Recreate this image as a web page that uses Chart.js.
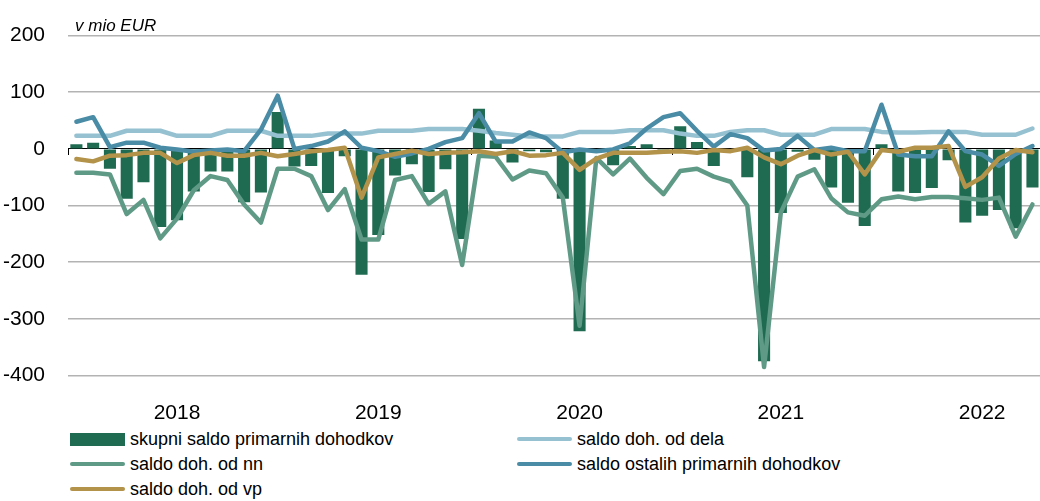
<!DOCTYPE html>
<html lang="sl">
<head>
    <meta charset="UTF-8">
    <title>Primarni dohodki</title>
    <script src="https://cdn.jsdelivr.net/npm/chart.js@4.4.0/dist/chart.umd.min.js"></script>
    <style>
        :root {
            --font: 'Liberation Sans Narrow', 'Arial Narrow', 'Liberation Sans', Arial, sans-serif;
        }

        * {
            margin: 0;
            padding: 0;
            box-sizing: border-box;
        }

        body {
            width: 1040px;
            height: 501px;
            overflow: hidden;
            background: #ffffff;
            position: relative;
            font-family: var(--font);
        }

        #chart {
            position: absolute;
            left: 0;
            top: 0;
        }

        .unit {
            position: absolute;
            left: 75px;
            top: 17px;
            font-size: 17px;
            line-height: 17px;
            font-style: italic;
            color: #000;
        }

        .legend-item {
            position: absolute;
            display: flex;
            align-items: center;
            height: 20px;
            font-size: 18px;
            color: #000;
            white-space: nowrap;
        }

        .legend-swatch {
            width: 55px;
            margin-right: 5px;
        }

        .legend-swatch.bar { height: 13px; }
        .legend-swatch.line { height: 4.5px; border-radius: 2px; }
    </style>
</head>
<body>
    <canvas id="chart" width="1083" height="420"></canvas>
    <div class="unit">v mio EUR</div>
    <div id="legend"></div>

    <script>
        // monthly data, Jan 2018 onward (values in mio EUR)
        const years = ['2018', '2019', '2020', '2021', '2022'];
        const months = years.flatMap(y => Array.from({ length: 12 }, (_, m) => y + '-' + String(m + 1).padStart(2, '0')));

        const skupni = [8, 11, -35, -88, -59, -138, -126, -75, -40, -40, -94, -77,
            65, -31, -30, -78, -13, -222, -152, -47, -27, -76, -36, -159,
            71, 15, -24, -4, -6, -88, -322, -3, -29, 5, 8, -2,
            40, 12, -30, -3, -50, -375, -113, -5, -19, -68, -95, -136,
            8, -75, -78, -69, -20, -130, -118, -108, -140, -68];

        const dela = [23, 23, 23, 32, 32, 32, 23, 23, 23, 32, 32, 32,
            23, 23, 23, 27, 27, 27, 32, 32, 32, 35, 35, 35,
            32, 28, 25, 22, 22, 22, 30, 30, 30, 33, 33, 33,
            27, 23, 23, 30, 33, 33, 25, 25, 25, 35, 35, 35,
            30, 29, 29, 30, 30, 30, 25, 25, 25, 36];

        const nn = [-42, -42, -45, -115, -90, -158, -123, -73, -48, -55, -98, -130,
            -35, -35, -48, -108, -71, -160, -160, -55, -48, -97, -75, -205,
            -12, -14, -54, -38, -43, -86, -312, -16, -45, -17, -51, -80,
            -39, -35, -49, -58, -100, -385, -112, -49, -36, -87, -112, -118,
            -89, -84, -89, -85, -85, -87, -90, -86, -155, -98];

        const ostalih = [48, 56, 3, 11, 11, 2, -1, -5, -3, -1, -4, 34,
            94, 0, 5, 13, 31, 2, -4, -14, -8, 0, 12, 19,
            63, 13, 13, 29, 19, -6, -1, -4, -1, 10, 36, 56,
            63, 32, 4, 26, 19, -3, 0, 23, -2, 2, -4, -4,
            78, -10, -13, -13, 31, -4, -10, -30, -9, 5];

        const vp = [-18, -22, -12, -11, -7, -7, -25, -11, -7, -12, -12, -7,
            -13, -9, -4, -2, 2, -86, -15, -9, -3, -9, -7, -6,
            -4, -9, -4, -12, -11, -7, -37, -17, -7, -7, -7, -5,
            -4, -7, -2, -4, 2, -15, -27, -12, -2, -10, -5, -45,
            -2, -5, 2, 2, 5, -67, -50, -17, -2, -6];

        const colors = {
            skupni: '#1f6b51',
            dela: '#95c1d1',
            nn: '#5f9a86',
            ostalih: '#4a8ca6',
            vp: '#b39249'
        };

        Chart.defaults.font.family = "'Liberation Sans Narrow', 'Arial Narrow', 'Liberation Sans', Arial, sans-serif";
        Chart.defaults.color = '#000';

        // small black ticks on the zero line at each year boundary
        const yearTicks = {
            id: 'yearTicks',
            beforeDatasetsDraw(chart) {
                const { ctx, scales: { x, y } } = chart;
                const y0 = Math.round(y.getPixelForValue(0));
                const step = x.width / months.length;
                ctx.save();
                ctx.strokeStyle = '#000';
                ctx.lineWidth = 1;
                ctx.beginPath();
                for (let i = 0; i < months.length; i += 12) {
                    const px = Math.round(x.getPixelForValue(i) - step / 2) + 0.5;
                    ctx.moveTo(px, y0);
                    ctx.lineTo(px, y0 + 6);
                }
                ctx.stroke();
                ctx.restore();
            }
        };

        function lineSet(label, data, color, order) {
            return {
                type: 'line',
                label: label,
                data: data,
                borderColor: color,
                backgroundColor: color,
                borderWidth: 4.5,
                pointRadius: 0,
                tension: 0,
                borderJoinStyle: 'round',
                borderCapStyle: 'round',
                order: order
            };
        }

        const datasets = [
            {
                type: 'bar',
                label: 'skupni saldo primarnih dohodkov',
                data: skupni,
                backgroundColor: colors.skupni,
                barPercentage: 0.72,
                categoryPercentage: 1,
                order: 5
            },
            lineSet('saldo doh. od dela', dela, colors.dela, 4),
            lineSet('saldo doh. od nn', nn, colors.nn, 3),
            lineSet('saldo ostalih primarnih dohodkov', ostalih, colors.ostalih, 2),
            lineSet('saldo doh. od vp', vp, colors.vp, 1)
        ];

        new Chart(document.getElementById('chart'), {
            data: { labels: months, datasets: datasets },
            options: {
                responsive: false,
                animation: false,
                devicePixelRatio: 1,
                layout: { padding: { top: 35.5, left: 0, right: 0, bottom: 0 } },
                plugins: {
                    legend: { display: false },
                    tooltip: { enabled: false }
                },
                scales: {
                    x: {
                        offset: true,
                        grid: { display: false },
                        border: { display: false },
                        ticks: {
                            autoSkip: false,
                            maxRotation: 0,
                            padding: 17,
                            font: { size: 21 },
                            callback: (v, i) => (i % 12 === 6 ? months[i].slice(0, 4) : '')
                        },
                        afterFit(scale) { scale.height = 44.5; }
                    },
                    y: {
                        min: -400,
                        max: 200,
                        ticks: { stepSize: 100, padding: 23, font: { size: 21 } },
                        grid: {
                            drawTicks: false,
                            color: ctx => (ctx.tick.value === 0 ? '#000' : '#b3b3b3'),
                            lineWidth: ctx => (ctx.tick.value === 0 ? 1 : 1.5)
                        },
                        border: { display: false },
                        afterFit(scale) { scale.width = 68; }
                    }
                }
            },
            plugins: [yearTicks]
        });

        // legend laid out in two columns like the original
        const legendSpots = [
            { left: 70, top: 429 }, { left: 517, top: 429 },
            { left: 70, top: 454 }, { left: 517, top: 454 },
            { left: 70, top: 479 }
        ];
        const legend = document.getElementById('legend');
        datasets.forEach((ds, k) => {
            const item = document.createElement('div');
            item.className = 'legend-item';
            item.style.left = legendSpots[k].left + 'px';
            item.style.top = legendSpots[k].top + 'px';
            const sw = document.createElement('span');
            sw.className = 'legend-swatch ' + (ds.type === 'bar' ? 'bar' : 'line');
            sw.style.background = ds.type === 'bar' ? ds.backgroundColor : ds.borderColor;
            const txt = document.createElement('span');
            txt.textContent = ds.label;
            item.appendChild(sw);
            item.appendChild(txt);
            legend.appendChild(item);
        });
    </script>
</body>
</html>
